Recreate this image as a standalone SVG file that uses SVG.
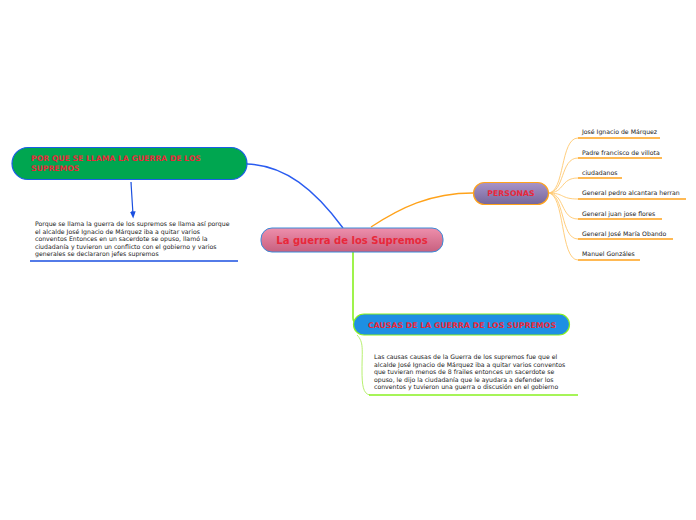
<svg xmlns="http://www.w3.org/2000/svg" width="696" height="520" viewBox="0 0 696 520">
<defs>
<linearGradient id="gPink" x1="0" y1="0" x2="0" y2="1"><stop offset="0" stop-color="#ee8fac"/><stop offset="1" stop-color="#c7607f"/></linearGradient>
<linearGradient id="gPurple" x1="0" y1="0" x2="0" y2="1"><stop offset="0" stop-color="#a894c8"/><stop offset="1" stop-color="#76669a"/></linearGradient>
<marker id="arr" viewBox="0 0 10 10" refX="5" refY="5" markerWidth="6" markerHeight="6" orient="auto"><path d="M0,1 L10,5 L0,9 z" fill="#1a4fe0"/></marker>
</defs>
<style>
.title{font-family:"DejaVu Sans",Verdana,sans-serif;font-weight:bold;fill:#e8283a}
.t{font-family:"DejaVu Sans",Verdana,sans-serif;font-size:6.2px;fill:#1a1a1a}
.leaf{fill:none;stroke:#ffa21a;stroke-width:1.3}
.leafc{fill:none;stroke:#ffc870;stroke-width:0.9}
</style>
<rect width="696" height="520" fill="#fff"/>
<g id="connectors">
<path d="M343,228 C315,190 285,165 247,164" fill="none" stroke="#2a5cf0" stroke-width="1.4"/>
<path d="M371,227 C400,208 430,193 473,193" fill="none" stroke="#ffa21a" stroke-width="1.3"/>
<path d="M353,252 L353,318 Q353,322 356,322" fill="none" stroke="#88f020" stroke-width="1.6"/>
<path d="M131,182 L133,215" fill="none" stroke="#1a4fe0" stroke-width="1.2" marker-end="url(#arr)"/>
<path d="M357,335 C364,342 362,350 362,370 C362,385 363,394 370,395" fill="none" stroke="#b8f070" stroke-width="1"/>
<path d="M548,193 C565,193 560,138 578,138" class="leafc"/>
<path d="M548,193 C565,193 560,158 578,158" class="leafc"/>
<path d="M548,193 C565,193 560,178 578,178" class="leafc"/>
<path d="M548,193 C565,193 560,199 578,199" class="leafc"/>
<path d="M548,193 C565,193 560,219 578,219" class="leafc"/>
<path d="M548,193 C565,193 560,239 578,239" class="leafc"/>
<path d="M548,193 C565,193 560,260 578,260" class="leafc"/>
</g>
<g id="central">
<rect x="261" y="228" width="182" height="24" rx="11" fill="url(#gPink)" stroke="#3a8ad8" stroke-width="1"/>
<text x="352" y="244" text-anchor="middle" class="title" font-size="10">La guerra de los Supremos</text>
</g>
<g id="porque">
<rect x="12" y="147.5" width="235" height="32" rx="16" fill="#00a650" stroke="#1a5ee8" stroke-width="1.2"/>
<text class="title" font-size="7.7"><tspan x="31" y="161">POR QUE SE LLAMA LA GUERRA DE LOS</tspan><tspan x="31" y="170.5">SUPREMOS</tspan></text>
</g>
<g id="porque-text">
<text class="t"><tspan x="35" y="226">Porque se llama la guerra de los supremos se llama así porque</tspan><tspan x="35" y="233.6">el alcalde José Ignacio de Márquez iba a quitar varios</tspan><tspan x="35" y="241.2">conventos Entonces en un sacerdote se opuso, llamó la</tspan><tspan x="35" y="248.8">ciudadanía y tuvieron un conflicto con el gobierno y varios</tspan><tspan x="35" y="256.4">generales se declararon jefes supremos</tspan></text>
<line x1="30" y1="261" x2="238" y2="261" stroke="#1a4fe0" stroke-width="1.4"/>
</g>
<g id="personas">
<rect x="473.5" y="182.5" width="75" height="22" rx="11" fill="url(#gPurple)" stroke="#ffa21a" stroke-width="1.2"/>
<text x="511" y="196" text-anchor="middle" class="title" font-size="7.8">PERSONAS</text>
</g>
<g id="p1"><text x="582" y="134" class="t">José Ignacio de Márquez</text><line x1="578" y1="138" x2="660" y2="138" class="leaf"/></g>
<g id="p2"><text x="582" y="155" class="t">Padre francisco de villota</text><line x1="578" y1="158" x2="662" y2="158" class="leaf"/></g>
<g id="p3"><text x="582" y="175" class="t">ciudadanos</text><line x1="578" y1="178" x2="622" y2="178" class="leaf"/></g>
<g id="p4"><text x="582" y="195" class="t">General pedro alcantara herran</text><line x1="578" y1="199" x2="686" y2="199" class="leaf"/></g>
<g id="p5"><text x="582" y="216" class="t">General juan jose flores</text><line x1="578" y1="219" x2="662" y2="219" class="leaf"/></g>
<g id="p6"><text x="582" y="236" class="t">General José María Obando</text><line x1="578" y1="239" x2="673" y2="239" class="leaf"/></g>
<g id="p7"><text x="582" y="256" class="t">Manuel Gonzáles</text><line x1="578" y1="260" x2="640" y2="260" class="leaf"/></g>
<g id="causas">
<rect x="353.5" y="314" width="216" height="21" rx="10.5" fill="#1e8fe3" stroke="#88f020" stroke-width="1.2"/>
<text x="462" y="327.5" text-anchor="middle" class="title" font-size="7.8">CAUSAS DE LA GUERRA DE LOS SUPREMOS</text>
</g>
<g id="causas-text">
<text class="t"><tspan x="374" y="359">Las causas causas de la Guerra de los supremos fue que el</tspan><tspan x="374" y="366.5">alcalde José Ignacio de Márquez iba a quitar varios conventos</tspan><tspan x="374" y="374">que tuvieran menos de 8 frailes entonces un sacerdote se</tspan><tspan x="374" y="381.5">opuso, le dijo la ciudadanía que le ayudara a defender los</tspan><tspan x="374" y="389">conventos y tuvieron una guerra o discusión en el gobierno</tspan></text>
<line x1="369" y1="395" x2="578" y2="395" stroke="#88f020" stroke-width="1.4"/>
</g>
</svg>
